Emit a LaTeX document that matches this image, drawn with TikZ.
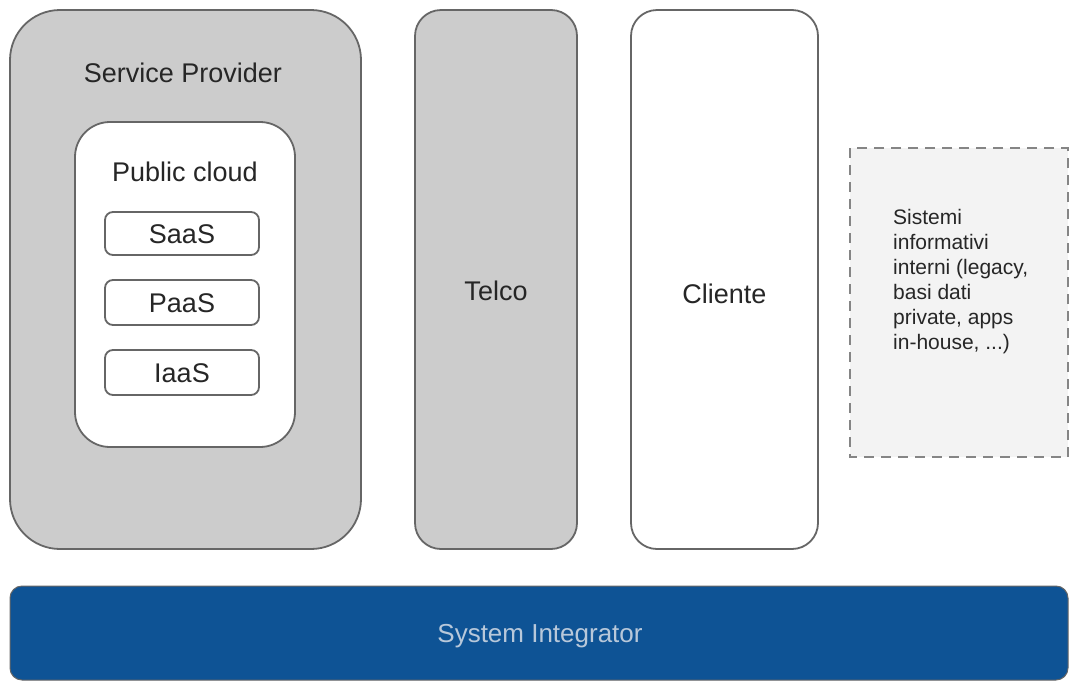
\documentclass[tikz,border=0pt]{standalone}
\usepackage{fontspec}
\setmainfont{Liberation Sans}
\definecolor{boxgray}{HTML}{CCCCCC}
\definecolor{edgegray}{HTML}{666666}
\definecolor{txtgray}{HTML}{262626}
\definecolor{paleg}{HTML}{F3F3F3}
\definecolor{siblue}{HTML}{0E5395}
\definecolor{sitext}{HTML}{B8C8DA}
\begin{document}
\begin{tikzpicture}[x=1pt,y=-1pt,
  box/.style={draw=edgegray,line width=1.8pt},
  bigfont/.style={font=\fontsize{27}{32}\selectfont,text=txtgray},
  smallfont/.style={font=\fontsize{21}{25}\selectfont,text=txtgray}]
\useasboundingbox (0,0) rectangle (1070,681);
% Service Provider
\draw[box,fill=boxgray,rounded corners=50pt] (10,10) rectangle (361,549);
\node[bigfont] (sp) at (183,73) {Service Provider};
% Public cloud
\draw[box,fill=white,rounded corners=35pt] (75,122) rectangle (295,447);
\node[bigfont] (pc) at (185,172) {Public cloud};
\draw[box,fill=white,rounded corners=8pt] (105,212) rectangle (259,255);
\node[bigfont] (saas) at (182,234) {SaaS};
\draw[box,fill=white,rounded corners=8pt] (105,280) rectangle (259,325);
\node[bigfont] (paas) at (182,303) {PaaS};
\draw[box,fill=white,rounded corners=8pt] (105,350) rectangle (259,395);
\node[bigfont] (iaas) at (182,373) {IaaS};
% Telco
\draw[box,fill=boxgray,rounded corners=26pt] (415,10) rectangle (577,549);
\node[bigfont] (telco) at (496,291) {Telco};
% Cliente
\draw[box,fill=white,rounded corners=26pt] (631,10) rectangle (818,549);
\node[bigfont] (cliente) at (724.5,294) {Cliente};
% Dashed box
\draw[draw=edgegray!80,line width=1.8pt,fill=paleg,dash pattern=on 10pt off 7pt] (850,148) rectangle (1068,457);
\node[smallfont,anchor=north west,align=left,inner sep=0pt] (sys) at (893,209)
  {Sistemi\\informativi\\interni (legacy,\\basi dati\\private, apps\\in-house, ...)};
% System Integrator
\draw[draw=edgegray,line width=1pt,fill=siblue,rounded corners=12pt] (10,586) rectangle (1068,680);
\node[font=\fontsize{26}{31}\selectfont,text=sitext] (si) at (540,636) {System Integrator};
\end{tikzpicture}
\end{document}
